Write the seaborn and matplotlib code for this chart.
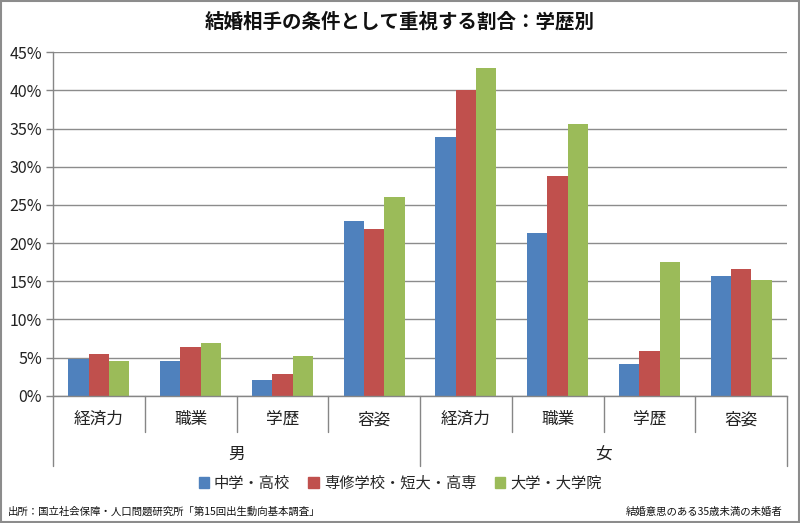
import seaborn as sns
import pandas as pd
import matplotlib.pyplot as plt
from matplotlib.patches import Rectangle
from matplotlib.ticker import FuncFormatter
import matplotlib.transforms as mtransforms

# data (percent)
sexes = ['男', '女']
items = ['経済力', '職業', '学歴', '容姿']
levels = ['中学・高校', '専修学校・短大・高専', '大学・大学院']
chugaku_koko = [4.8, 4.5, 2.1, 22.9, 33.9, 21.3, 4.2, 15.7]
senshu_tandai = [5.5, 6.4, 2.9, 21.8, 40.0, 28.8, 5.8, 16.6]
daigaku = [4.5, 6.9, 5.2, 26.1, 43.0, 35.6, 17.5, 15.2]
colors = ['#4F81BD', '#C0504D', '#9BBB59']

title = '結婚相手の条件として重視する割合：学歴別'
source_note = '出所：国立社会保障・人口問題研究所「第15回出生動向基本調査」'
subject_note = '結婚意思のある35歳未満の未婚者'

keys = [s + '-' + it for s in sexes for it in items]
rows = []
for lv, vals in zip(levels, [chugaku_koko, senshu_tandai, daigaku]):
    for k, v in zip(keys, vals):
        rows.append({'key': k, 'level': lv, 'value': v})
df = pd.DataFrame(rows)

sns.set_theme(style='white')
plt.rcParams['font.family'] = ['Noto Sans CJK JP', 'DejaVu Sans']

fig = plt.figure(figsize=(8, 5.23), dpi=100)
ax = fig.add_axes([53 / 800, 1 - 395.7 / 523, (787 - 53) / 800, (395.7 - 52.3) / 523])

sns.barplot(data=df, x='key', y='value', hue='level', order=keys, hue_order=levels,
            palette=colors, width=2 / 3, saturation=1, ax=ax, legend=False,
            edgecolor='none', linewidth=0)

ax.set_ylim(0, 45)
ax.set_xlim(-0.5, len(keys) - 0.5)
ax.set_yticks(range(0, 46, 5))
ax.yaxis.set_major_formatter(FuncFormatter(lambda v, p: f'{int(v)}%'))
ax.tick_params(axis='y', labelsize=11.5, length=5, width=1, color='#868686', pad=3,
               left=True, labelcolor='#222222')
ax.set_xticks([])
ax.set_xlabel('')
ax.set_ylabel('')
ax.grid(axis='y', color='#8c8c8c', lw=1)
ax.set_axisbelow(True)
for side in ['top', 'right']:
    ax.spines[side].set_visible(False)
for side in ['left', 'bottom']:
    ax.spines[side].set_color('#868686')
    ax.spines[side].set_linewidth(1)

# two-level category axis
trans = mtransforms.blended_transform_factory(ax.transData, ax.transAxes)
px = 1 / (395.7 - 52.3)
for i in range(len(keys) + 1):
    x = i - 0.5
    low = -70 * px if i % len(items) == 0 else -36 * px
    ax.plot([x, x], [0, low], transform=trans, color='#868686', lw=1, clip_on=False)
for i, k in enumerate(keys):
    ax.text(i, -24 * px, k.split('-')[1], transform=trans, ha='center', va='center',
            fontsize=12, color='#222222')
for j, s in enumerate(sexes):
    ax.text(j * len(items) + (len(items) - 1) / 2, -59 * px, s, transform=trans,
            ha='center', va='center', fontsize=12, color='#222222')

handles = [Rectangle((0, 0), 1, 1, color=c) for c in colors]
fig.legend(handles, levels, loc='center', bbox_to_anchor=(0.5, 1 - 483 / 523), ncol=3,
           frameon=False, fontsize=11, handlelength=0.7, handleheight=0.7,
           handletextpad=0.3, columnspacing=1.2)

fig.text(0.5, 1 - 22 / 523, title, ha='center', va='center', fontsize=14,
         fontweight='bold', color='#111111')
fig.text(8 / 800, 1 - 512 / 523, source_note, ha='left', va='center', fontsize=7.5,
         color='#111111')
fig.text(783 / 800, 1 - 512 / 523, subject_note, ha='right', va='center', fontsize=7.5,
         color='#111111')

fig.patches.append(Rectangle((0.001, 0.001), 0.998, 0.997, transform=fig.transFigure,
                             fill=False, edgecolor='#8c8c8c', lw=1.5))

fig.savefig('out.png', dpi=100)
